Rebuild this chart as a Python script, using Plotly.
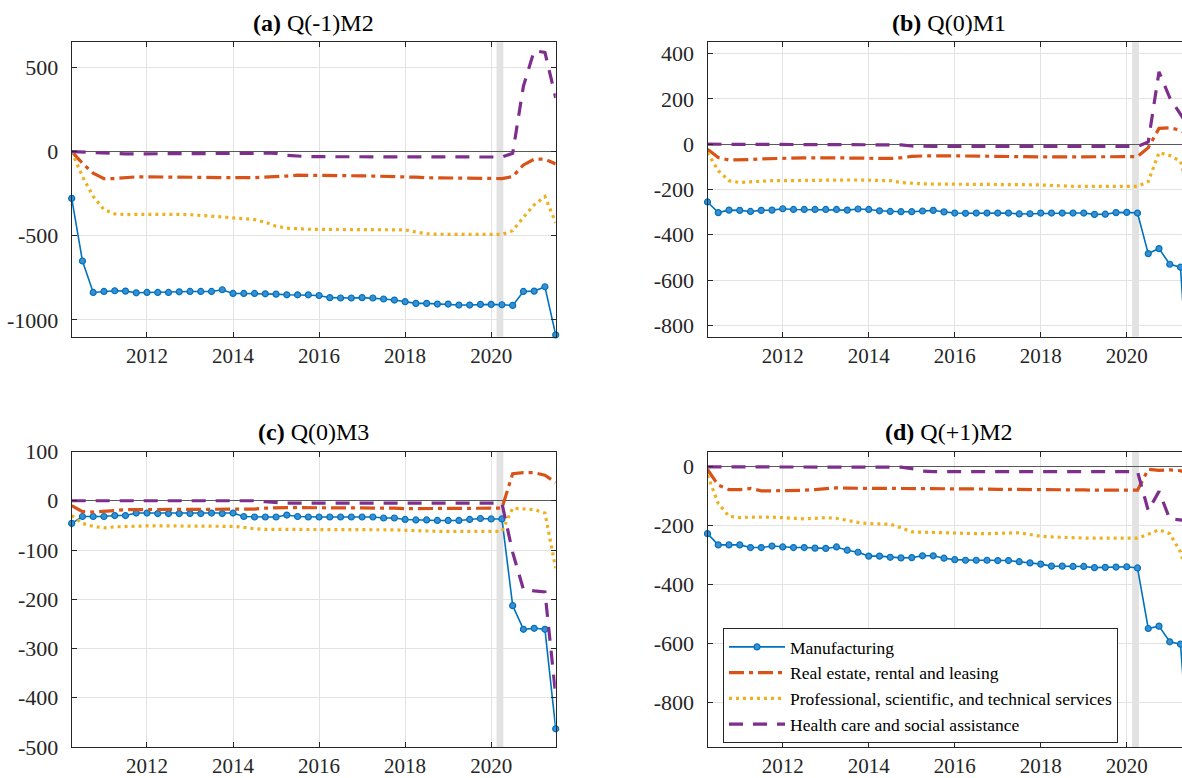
import plotly.graph_objects as go

# Quarterly observation dates (2010Q2 .. 2021Q3)
quarters = [2010.25, 2010.5, 2010.75, 2011.0, 2011.25, 2011.5, 2011.75, 2012.0,
            2012.25, 2012.5, 2012.75, 2013.0, 2013.25, 2013.5, 2013.75, 2014.0,
            2014.25, 2014.5, 2014.75, 2015.0, 2015.25, 2015.5, 2015.75, 2016.0,
            2016.25, 2016.5, 2016.75, 2017.0, 2017.25, 2017.5, 2017.75, 2018.0,
            2018.25, 2018.5, 2018.75, 2019.0, 2019.25, 2019.5, 2019.75, 2020.0,
            2020.25, 2020.5, 2020.75, 2021.0, 2021.25, 2021.5]

series_names = ["Manufacturing",
                "Real estate, rental and leasing",
                "Professional, scientific, and technical services",
                "Health care and social assistance"]

# (a) Q(-1)M2
mfg_a = [-278, -650, -837, -831, -827, -829, -839, -837, -837, -837, -833, -831, -831, -831, -821, -843,
         -843, -843, -845, -847, -851, -851, -851, -855, -868, -870, -870, -868, -870, -876, -882, -892,
         -902, -902, -906, -906, -912, -912, -908, -908, -910, -914, -831, -829, -803, -1089]
re_a = [0, -69, -128, -161, -160, -154, -150, -150, -151, -152, -152, -151, -152, -153, -154, -154,
        -155, -155, -153, -150, -145, -140, -140, -140, -141, -142, -143, -144, -145, -146, -148, -150,
        -152, -155, -156, -158, -159, -160, -160, -160, -160, -148, -79, -45, -45, -73]
ps_a = [0, -148, -266, -345, -370, -374, -373, -372, -372, -372, -373, -375, -378, -382, -388, -394,
        -398, -404, -420, -443, -455, -459, -461, -462, -462, -462, -462, -462, -462, -463, -463, -465,
        -478, -488, -491, -492, -492, -492, -492, -492, -492, -470, -390, -316, -267, -423]
hc_a = [0, -3, -7, -10, -12, -13, -13, -13, -12, -12, -12, -12, -12, -12, -12, -12,
        -11, -10, -8, -10, -22, -28, -30, -30, -30, -30, -30, -30, -31, -31, -31, -31,
        -31, -32, -32, -32, -32, -32, -32, -32, -32, -10, 390, 600, 590, 320]

# (b) Q(0)M1
mfg_b = [-255, -302, -291, -292, -297, -292, -291, -285, -288, -288, -288, -288, -288, -291, -286, -288,
         -294, -297, -298, -298, -295, -292, -299, -304, -305, -304, -304, -304, -304, -308, -307, -304,
         -304, -304, -304, -304, -310, -309, -302, -301, -304, -483, -461, -530, -543, -1270]
re_b = [-22, -59, -70, -70, -68, -65, -63, -62, -61, -60, -60, -59, -60, -61, -62, -63,
        -63, -63, -60, -54, -52, -51, -51, -51, -52, -53, -54, -54, -55, -55, -56, -56,
        -56, -56, -56, -56, -56, -56, -56, -56, -55, -15, 70, 72, 62, 30]
ps_b = [-37, -117, -161, -169, -166, -162, -161, -161, -160, -159, -158, -158, -158, -158, -158, -158,
        -160, -161, -169, -173, -175, -176, -176, -176, -176, -176, -176, -177, -178, -178, -179, -180,
        -183, -185, -186, -186, -186, -186, -186, -186, -186, -165, -37, -50, -75, -250]
hc_b = [0, 0, 0, 0, 0, 0, 0, 0, 0, 0, 0, 0, 0, 0, 0, 0,
        0, 0, -3, -8, -10, -10, -10, -10, -10, -10, -10, -10, -10, -10, -10, -10,
        -10, -10, -10, -10, -10, -10, -10, -10, -10, 10, 320, 205, 130, 60]

# (c) Q(0)M3
mfg_c = [-46, -32, -32, -32, -30, -30, -25, -25, -26, -26, -26, -26, -26, -25, -26, -25,
         -32, -33, -33, -33, -29, -32, -33, -33, -33, -33, -33, -33, -33, -35, -35, -38,
         -39, -39, -40, -40, -40, -38, -36, -37, -37, -213, -261, -259, -261, -463]
re_c = [-10, -22, -23, -22, -20, -18, -18, -18, -17, -17, -17, -17, -17, -18, -18, -18,
        -18, -17, -15, -14, -14, -14, -14, -14, -14, -14, -14, -14, -14, -15, -15, -16,
        -16, -16, -16, -16, -16, -16, -16, -16, -15, 55, 57, 57, 52, 37]
ps_c = [-30, -46, -52, -55, -53, -52, -51, -51, -51, -51, -51, -51, -51, -51, -52, -52,
        -54, -57, -58, -58, -58, -58, -58, -58, -58, -58, -58, -58, -58, -59, -59, -60,
        -61, -62, -62, -62, -62, -62, -62, -62, -62, -15, -17, -18, -25, -137]
hc_c = [0, 0, 0, 0, 0, 0, 0, 0, 0, 0, 0, 0, 0, 0, 0, 0,
        0, 0, -2, -4, -5, -5, -5, -5, -5, -5, -5, -5, -5, -5, -5, -5,
        -5, -5, -5, -5, -5, -5, -5, -5, -5, -105, -180, -183, -185, -395]

# (d) Q(+1)M2
mfg_d = [-228, -266, -266, -266, -275, -275, -270, -273, -275, -275, -277, -278, -273, -284, -291, -304,
         -304, -308, -310, -309, -303, -303, -311, -316, -318, -318, -318, -319, -319, -323, -327, -331,
         -338, -338, -339, -339, -343, -342, -341, -340, -344, -549, -541, -594, -602, -1090]
re_d = [-11, -64, -79, -79, -75, -83, -83, -83, -83, -81, -79, -77, -73, -74, -75, -75,
        -75, -75, -75, -75, -75, -75, -76, -76, -76, -76, -77, -78, -78, -79, -79, -79,
        -80, -80, -80, -80, -81, -81, -81, -81, -81, -10, -14, -12, -15, -30]
ps_d = [-30, -126, -169, -174, -172, -171, -172, -174, -176, -178, -176, -174, -176, -183, -190, -194,
        -195, -196, -208, -222, -223, -224, -226, -228, -228, -228, -228, -228, -226, -225, -230, -237,
        -239, -241, -242, -243, -243, -243, -243, -243, -243, -230, -215, -228, -290, -420]
hc_d = [-2, -2, -2, -2, -2, -2, -2, -2, -2, -2, -2, -2, -2, -2, -2, -2,
        -2, -2, -3, -8, -16, -18, -18, -18, -18, -18, -18, -18, -18, -18, -18, -18,
        -18, -18, -18, -18, -18, -18, -18, -18, -18, -150, -85, -178, -182, -185]

# Recession band (2020 Feb - Apr)
recession = (2020.125, 2020.283)

W, H = 1182, 778
FONT = "Liberation Serif"
AX_COLOR = "#262626"
GRID = "#e3e3e3"

colors = ["#0072BD", "#D95319", "#EDB120", "#7E2F8E"]
dashes = [None, "15px,5px,4px,5px", "3px,4px", "14px,10px"]
widths = [1.6, 3.2, 3.2, 3.2]

# panel geometry in pixels: axis left/right, top/bottom, x range end, title centre
panels = [
    dict(tag="a", title="Q(-1)M2", data=(mfg_a, re_a, ps_a, hc_a), yr=(-1100, 650),
         yt=[-1000, -500, 0, 500], left=71.7, right=555.7, top=42.3, bottom=336.7,
         xend=2021.5, center=313.7, mirror_y=True),
    dict(tag="b", title="Q(0)M1", data=(mfg_b, re_b, ps_b, hc_b), yr=(-850, 450),
         yt=[-800, -600, -400, -200, 0, 200, 400], left=707.5, right=W, top=42.3, bottom=336.7,
         xend=2010.25 + (W - 707.5) / 43.0, center=949.0, mirror_y=False),
    dict(tag="c", title="Q(0)M3", data=(mfg_c, re_c, ps_c, hc_c), yr=(-500, 100),
         yt=[-500, -400, -300, -200, -100, 0, 100], left=71.7, right=555.7, top=451.5, bottom=747.0,
         xend=2021.5, center=313.7, mirror_y=True),
    dict(tag="d", title="Q(+1)M2", data=(mfg_d, re_d, ps_d, hc_d), yr=(-950, 50),
         yt=[-800, -600, -400, -200, 0], left=707.5, right=W, top=451.5, bottom=747.0,
         xend=2010.25 + (W - 707.5) / 43.0, center=949.0, mirror_y=False),
]

fig = go.Figure()
layout = dict(
    template="none",
    width=W, height=H,
    margin=dict(l=0, r=0, t=0, b=0, pad=0, autoexpand=False),
    paper_bgcolor="white", plot_bgcolor="white",
    font=dict(family=FONT, size=22, color=AX_COLOR),
    shapes=[], annotations=[],
)

xticks = [2012, 2014, 2016, 2018, 2020]

for k, p in enumerate(panels):
    sfx = "" if k == 0 else str(k + 1)
    xa, ya = "x" + sfx, "y" + sfx
    for j in range(4):
        fig.add_trace(go.Scatter(
            x=quarters, y=p["data"][j], xaxis=xa, yaxis=ya,
            name=series_names[j], legendgroup=series_names[j],
            showlegend=(k == 3),
            mode="lines+markers" if j == 0 else "lines",
            line=dict(color=colors[j], width=widths[j], dash=dashes[j]),
            marker=dict(symbol="circle", size=6, color="#3a8fd2",
                        line=dict(color=colors[0], width=1.2)) if j == 0 else None,
            cliponaxis=False if j == 0 else True,
        ))
    x0 = p["left"] / W
    x1 = min(p["right"] / W, 1.0)
    y0 = 1 - p["bottom"] / H
    y1 = 1 - p["top"] / H
    layout["xaxis" + sfx] = dict(
        domain=[x0, x1], range=[2010.25, p["xend"]], anchor=ya, automargin=False,
        tickvals=xticks, ticktext=[str(t) for t in xticks],
        ticks="inside", ticklen=5, tickcolor=AX_COLOR,
        showline=True, linecolor=AX_COLOR, linewidth=1, mirror="ticks",
        showgrid=True, gridcolor=GRID, gridwidth=1, zeroline=False,
        ticklabelstandoff=0, tickfont=dict(family=FONT, size=21, color=AX_COLOR),
    )
    layout["yaxis" + sfx] = dict(
        domain=[y0, y1], range=list(p["yr"]), anchor=xa, automargin=False,
        tickvals=p["yt"], ticktext=[str(t) for t in p["yt"]],
        ticks="inside", ticklen=5, tickcolor=AX_COLOR,
        showline=True, linecolor=AX_COLOR, linewidth=1,
        mirror="ticks" if p["mirror_y"] else False,
        showgrid=True, gridcolor=GRID, gridwidth=1,
        zeroline=True, zerolinecolor="#5a5a5a", zerolinewidth=1,
        ticklabelstandoff=8, tickfont=dict(family=FONT, size=22, color=AX_COLOR),
    )
    layout["shapes"].append(dict(
        type="rect", xref=xa, yref=ya + " domain", x0=recession[0], x1=recession[1],
        y0=0, y1=1, fillcolor="#e2e2e2", line=dict(width=0), layer="below",
    ))
    layout["annotations"].append(dict(
        text=f"<b>({p['tag']})</b> {p['title']}", xref="paper", yref="paper",
        x=p["center"] / W, y=1 - (p["top"] - 19.5) / H, xanchor="center", yanchor="middle",
        showarrow=False, font=dict(family=FONT, size=24, color="black"),
    ))

layout["legend"] = dict(
    x=723 / W, y=1 - 628 / H, xanchor="left", yanchor="top",
    bgcolor="white", bordercolor=AX_COLOR, borderwidth=1,
    font=dict(family=FONT, size=17.5, color="black"),
    itemwidth=56, tracegroupgap=0,
)

fig.update_layout(**layout)
fig.write_html("out.html")
